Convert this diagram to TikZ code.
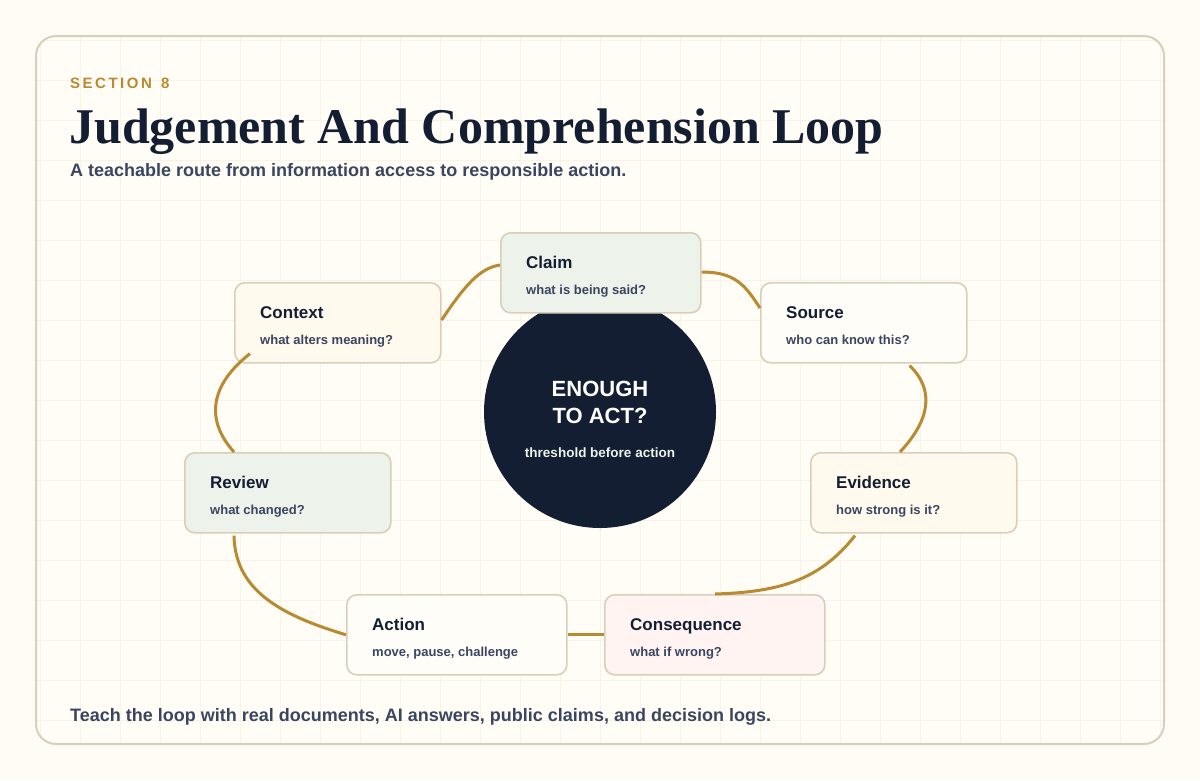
\documentclass[tikz,border=0pt]{standalone}
\usepackage{fontspec}
\setmainfont{Liberation Sans}
\newfontfamily\titlefont{Liberation Serif}
\usetikzlibrary{calc}
\definecolor{bg}{HTML}{FEFCF5}
\definecolor{panel}{HTML}{FFFDF6}
\definecolor{edge}{HTML}{D9CFB8}
\definecolor{gridc}{HTML}{F7F3E9}
\definecolor{gold}{HTML}{B88A32}
\definecolor{navy}{HTML}{131E33}
\definecolor{slate}{HTML}{3A4560}
\definecolor{fgreen}{HTML}{EDF2EA}
\definecolor{fcream}{HTML}{FFF9EE}
\definecolor{fwhite}{HTML}{FFFDF8}
\definecolor{fpink}{HTML}{FFF4F1}
\begin{document}
\begin{tikzpicture}[x=1pt,y=-1pt,
  every node/.style={inner sep=0pt},
  stepbox/.style={draw=edge,line width=1.6pt,rounded corners=10pt,minimum width=206pt,minimum height=80pt,inner sep=0pt},
  link/.style={draw=gold,line width=3pt},
  ttl/.style={anchor=base west,font=\bfseries\fontsize{17}{20}\selectfont,text=navy},
  sub/.style={anchor=base west,font=\bfseries\fontsize{13}{16}\selectfont,text=slate}]
\fill[bg] (0,0) rectangle (1200,780);
\useasboundingbox (0,0) rectangle (1200,780);
\begin{scope}
\clip[rounded corners=20pt] (36,36) rectangle (1164,744);
\fill[panel] (36,36) rectangle (1164,744);
\foreach \x in {40,80,...,1160} \draw[gridc,line width=0.8pt] (\x,36) -- (\x,744);
\foreach \y in {40,80,...,740} \draw[gridc,line width=0.8pt] (36,\y) -- (1164,\y);
\end{scope}
\draw[edge,line width=2pt,rounded corners=20pt] (36,36) rectangle (1164,744);
\node[anchor=base west,font=\bfseries\fontsize{15}{18}\selectfont,text=gold] (sec) at (70,88) {S\,E\,C\,T\,I\,O\,N\,\, 8};
\node[anchor=base west,font=\titlefont\bfseries\fontsize{50}{54}\selectfont,text=navy] (title) at (69,143) {Judgement And Comprehension Loop};
\node[anchor=base west,font=\bfseries\fontsize{18}{21}\selectfont,text=slate] (subt) at (70,176) {A teachable route from information access to responsible action.};
\node[anchor=base west,font=\bfseries\fontsize{18}{21}\selectfont,text=slate] (foot) at (70,721) {Teach the loop with real documents, AI answers, public claims, and decision logs.};
% centre
\node[circle,fill=navy,minimum size=232pt,inner sep=0pt] (hub) at (600,412) {};
\node[font=\bfseries\fontsize{22}{27}\selectfont,text=white,align=center] (hubt) at (600,402) {ENOUGH\\TO ACT?};
\node[font=\bfseries\fontsize{13.5}{16}\selectfont,text=fgreen] (hubs) at (600,453) {threshold before action};
% boxes
\newcommand\stepnode[6]{%
 \node[stepbox,fill=#2,anchor=north west,minimum width=#5] (#1) at (#3,#4) {};
 \node[ttl] (#1t) at ($(#1.north west)+(26,36)$) {#6};}
\stepnode{claim}{fgreen}{500}{232}{200pt}{Claim}
\node[sub] at ($(claim.north west)+(26,62)$) {what is being said?};
\stepnode{ctx}{fcream}{234}{282}{206pt}{Context}
\node[sub] at ($(ctx.north west)+(26,62)$) {what alters meaning?};
\stepnode{src}{fwhite}{760}{282}{206pt}{Source}
\node[sub] at ($(src.north west)+(26,62)$) {who can know this?};
\stepnode{evi}{fcream}{810}{452}{206pt}{Evidence}
\node[sub] at ($(evi.north west)+(26,62)$) {how strong is it?};
\stepnode{cons}{fpink}{604}{594}{220pt}{Consequence}
\node[sub] at ($(cons.north west)+(26,62)$) {what if wrong?};
\stepnode{act}{fwhite}{346}{594}{220pt}{Action}
\node[sub] at ($(act.north west)+(26,62)$) {move, pause, challenge};
\stepnode{rev}{fgreen}{184}{452}{206pt}{Review}
\node[sub] at ($(rev.north west)+(26,62)$) {what changed?};
% links
\path[link] ($(ctx.north east)+(0,38)$) .. controls (465,285) and (480,268) .. ($(claim.north west)+(0,33)$);
\path[link] ($(claim.north east)+(0,40)$) .. controls (735,272) and (745,285) .. ($(src.north west)+(0,26)$);
\path[link] ($(src.south east)+(-58,2)$) .. controls (935,390) and (930,420) .. ($(evi.north west)+(90,0)$);
\path[link] ($(evi.south west)+(45,2)$) .. controls (820,580) and (780,592) .. ($(cons.north west)+(111,0)$);
\path[link] (act.east) -- (cons.west);
\path[link] (act.west) .. controls (280,615) and (235,590) .. ($(rev.south west)+(50,2)$);
\path[link] ($(rev.north west)+(50,0)$) .. controls (205,420) and (210,385) .. ($(ctx.south west)+(16,-10)$);
\end{tikzpicture}
\end{document}
